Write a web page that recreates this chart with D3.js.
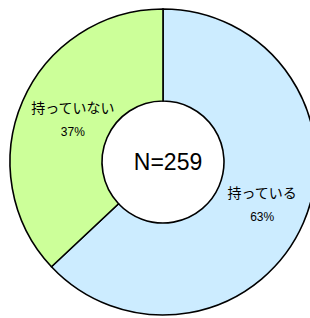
<!DOCTYPE html>
<html>
<head>
<meta charset="utf-8">
<script src="https://cdn.jsdelivr.net/npm/d3@7"></script>
<style>
  body { margin: 0; background: #fff; }
</style>
</head>
<body>
<div id="chart"></div>
<script>
// data
var labels = ["持っている", "持っていない"];
var values = [63, 37];
var colors = ["#CCECFF", "#CCFF99"];
var total = "N=259";

var width = 310, height = 318;
var cx = 163, cy = 162;
var outerR = 153, innerR = 61;

var svg = d3.select("#chart")
    .append("svg")
    .attr("width", width)
    .attr("height", height);

var g = svg.append("g")
    .attr("transform", "translate(" + cx + "," + cy + ")");

var pie = d3.pie().sort(null).value(function(d) { return d; });
var arcs = pie(values);

var arc = d3.arc()
    .innerRadius(innerR)
    .outerRadius(outerR);

g.selectAll("path.slice")
    .data(arcs)
    .enter()
    .append("path")
    .attr("class", "slice")
    .attr("d", arc)
    .attr("fill", function(d, i) { return colors[i]; })
    .attr("stroke", "#000")
    .attr("stroke-width", 1.6);

// center text
g.append("text")
    .text(total)
    .attr("x", 5)
    .attr("y", 8)
    .attr("text-anchor", "middle")
    .attr("font-family", "Liberation Sans, Arial, sans-serif")
    .attr("font-size", 23)
    .attr("fill", "#000");

// labels: positioned at the arc centroid, nudged a bit
var nudge = [[1, -6], [8, -7]];

arcs.forEach(function(d, i) {
    var c = arc.centroid(d);
    var x = c[0] + nudge[i][0], y = c[1] + nudge[i][1];
    g.append("text")
        .text(labels[i])
        .attr("x", x)
        .attr("y", y)
        .attr("text-anchor", "middle")
        .attr("font-family", "Noto Sans CJK JP, sans-serif")
        .attr("font-size", 14)
        .attr("fill", "#000");
    g.append("text")
        .text(values[i] + "%")
        .attr("x", x)
        .attr("y", y + 23)
        .attr("text-anchor", "middle")
        .attr("font-family", "Liberation Sans Narrow, Liberation Sans, sans-serif")
        .attr("font-size", 12)
        .attr("fill", "#000");
});
</script>
</body>
</html>
